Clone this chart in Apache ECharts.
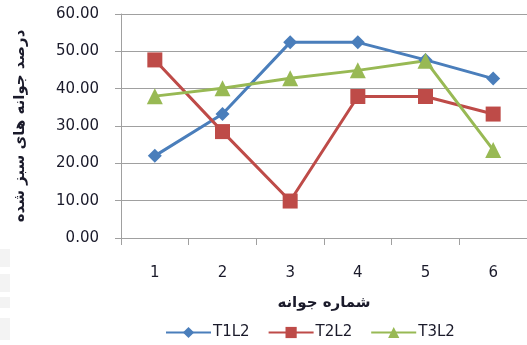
<!DOCTYPE html>
<html>
<head>
<meta charset="utf-8">
<script src="https://cdn.jsdelivr.net/npm/echarts@6/dist/echarts.min.js"></script>
<style>
  html, body { margin: 0; padding: 0; background: #ffffff; }
  #chart { width: 527px; height: 345px; }
</style>
</head>
<body>
<div id="chart"></div>
<script>
// Bud numbers along the x axis
const categories = ['1', '2', '3', '4', '5', '6'];
// Percentage of green buds per treatment
const t1l2 = [22.0, 33.2, 52.4, 52.4, 47.7, 42.7];
const t2l2 = [47.7, 28.5, 9.9, 37.9, 37.9, 33.2];
const t3l2 = [38.0, 40.1, 42.8, 44.9, 47.5, 23.6];
const seriesNames = ['T1L2', 'T2L2', 'T3L2'];
const yTitle = 'درصد جوانه های سبز شده';
const xTitle = 'شماره جوانه';

const chart = echarts.init(document.getElementById('chart'), null, { renderer: 'canvas' });

const gray = '#a0a0a0';
const textColor = '#1a1a2a';
const font = 'DejaVu Sans, Verdana, sans-serif';

function lineSeries(name, data, color, symbol, size) {
  return {
    name: name,
    type: 'line',
    data: data,
    symbol: symbol,
    symbolSize: size,
    lineStyle: { color: color, width: 3 },
    itemStyle: { color: color },
    emphasis: { disabled: true },
    z: 3
  };
}

chart.setOption({
  animation: false,
  backgroundColor: '#ffffff',
  graphic: [
    { type: 'rect', shape: { x: 0, y: 249, width: 10, height: 18 }, style: { fill: '#f3f3f3' } },
    { type: 'rect', shape: { x: 0, y: 274, width: 10, height: 18 }, style: { fill: '#f3f3f3' } },
    { type: 'rect', shape: { x: 0, y: 297, width: 10, height: 11 }, style: { fill: '#f3f3f3' } },
    { type: 'rect', shape: { x: 0, y: 318, width: 10, height: 22 }, style: { fill: '#f3f3f3' } }
  ],
  grid: { left: 121, top: 14, right: -4, bottom: 107, containLabel: false },
  legend: {
    top: 320,
    left: 160,
    itemWidth: 45,
    itemHeight: 14,
    itemGap: 18,
    textStyle: { fontFamily: font, fontSize: 15, color: textColor, padding: [0, 0, 0, -3] },
    data: seriesNames
  },
  xAxis: {
    type: 'category',
    data: categories,
    boundaryGap: true,
    name: xTitle,
    nameLocation: 'middle',
    nameGap: 58,
    nameTextStyle: { fontFamily: font, fontSize: 15, fontWeight: 'bold', color: textColor },
    axisLine: { lineStyle: { color: gray, width: 1 } },
    axisTick: { show: true, alignWithLabel: false, length: 7, lineStyle: { color: gray } },
    axisLabel: { fontFamily: font, fontSize: 15, color: textColor, margin: 28 },
    splitLine: { show: false }
  },
  yAxis: {
    type: 'value',
    min: 0,
    max: 60,
    interval: 10,
    name: yTitle,
    nameLocation: 'middle',
    nameRotate: 90,
    nameGap: 93,
    nameTextStyle: { fontFamily: font, fontSize: 15, fontWeight: 'bold', color: textColor },
    axisLine: { show: true, lineStyle: { color: gray, width: 1 } },
    axisTick: { show: true, length: 6, lineStyle: { color: gray } },
    axisLabel: {
      fontFamily: font, fontSize: 15, color: textColor, margin: 22,
      formatter: v => v.toFixed(2)
    },
    splitLine: { show: true, lineStyle: { color: gray, width: 1 } }
  },
  series: [
    lineSeries(seriesNames[0], t1l2, '#4a7ebb', 'diamond', 14),
    lineSeries(seriesNames[1], t2l2, '#be4b48', 'rect', 15),
    lineSeries(seriesNames[2], t3l2, '#98b954', 'triangle', 16)
  ]
});
</script>
</body>
</html>
